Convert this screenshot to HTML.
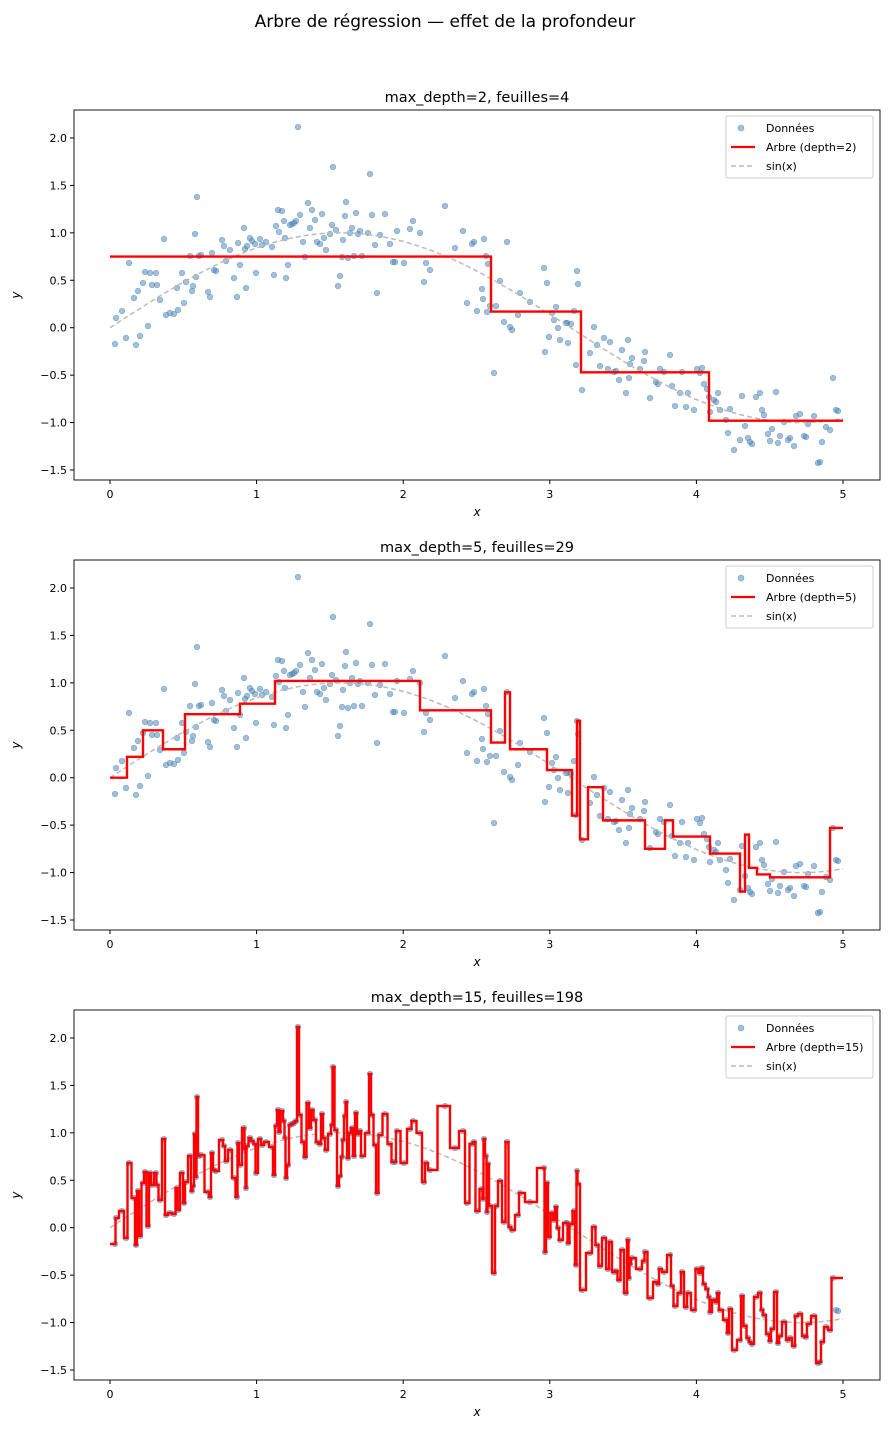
<!DOCTYPE html>
<html><head><meta charset="utf-8"><style>
body{margin:0;background:#fff;font-family:"Liberation Sans","DejaVu Sans",sans-serif}
svg text{font-family:"DejaVu Sans","Liberation Sans",sans-serif}
</style></head><body>
<svg id="s" width="890" height="1433" xmlns="http://www.w3.org/2000/svg"></svg>
<script>
const P=[[115,344],[116,318],[122,311],[126,338],[129,263],[134,298],[136,345],[138,291],[140,336],[143,283],[145,272],[148,326],[150,273],[152,285],[156,273],[157,285],[160,300],[164,239],[166,315],[170,313],[174,314],[177,288],[178,310],[182,273],[184,303],[186,282],[190,256],[192,291],[193,286],[195,234],[196,277],[197,197],[199,256],[201,255],[208,292],[210,297],[212,253],[214,270],[216,271],[222,240],[224,246],[226,261],[230,250],[234,278],[237,297],[238,243],[240,265],[244,228],[245,249],[246,288],[247,246],[250,238],[252,241],[255,244],[256,273],[260,239],[262,245],[266,242],[272,247],[274,275],[276,226],[278,210],[279,232],[282,211],[284,221],[285,238],[286,278],[288,265],[290,225],[292,224],[294,223],[296,221],[298,127],[300,215],[303,242],[305,257],[308,203],[310,228],[312,210],[315,220],[317,242],[320,244],[322,214],[324,238],[326,250],[330,234],[332,225],[333,167],[336,230],[338,286],[340,276],[342,257],[343,240],[345,216],[346,202],[348,258],[350,233],[352,228],[354,256],[356,213],[358,234],[360,231],[362,256],[368,233],[370,174],[372,215],[375,245],[377,293],[380,235],[385,214],[390,244],[393,262],[395,262],[397,231],[404,263],[410,229],[413,221],[420,233],[424,282],[426,263],[430,270],[445,206],[455,248],[463,231],[467,303],[472,244],[474,242],[477,311],[482,289],[483,299],[484,239],[486,256],[487,312],[488,264],[490,306],[494,373],[496,306],[500,281],[504,322],[507,242],[510,327],[512,330],[518,315],[520,293],[530,302],[544,268],[545,352],[547,283],[549,337],[552,313],[554,320],[556,307],[558,328],[560,340],[566,323],[567,323],[568,343],[571,324],[574,311],[576,365],[577,271],[578,284],[582,390],[590,353],[594,327],[597,345],[600,366],[604,338],[608,369],[610,342],[614,372],[616,371],[619,380],[622,350],[626,393],[628,340],[629,378],[630,364],[632,358],[640,369],[644,361],[645,352],[650,398],[656,382],[658,384],[660,369],[664,372],[670,355],[672,386],[675,406],[680,393],[682,372],[686,407],[688,393],[694,410],[697,369],[700,373],[702,368],[704,384],[707,389],[709,397],[710,412],[714,400],[716,402],[718,393],[720,410],[726,420],[728,433],[730,409],[734,450],[740,440],[742,396],[745,426],[748,438],[750,442],[752,444],[756,397],[760,393],[762,410],[764,415],[768,434],[770,441],[772,429],[776,392],[778,443],[780,436],[784,422],[788,440],[790,438],[794,446],[796,416],[800,414],[804,436],[806,437],[808,424],[814,416],[818,463],[820,462],[822,442],[826,427],[830,430],[833,378],[836,410],[838,411]];
const d2=[[110,0.75],[491,0.17],[581,-0.47],[709,-0.98],[843,null]];
const d5=[[110,0],[127,0.22],[143,0.5],[163,0.3],[185,0.67],[240,0.78],[275,1.02],[420,0.71],[491,0.37],[505,0.9],[510,0.3],[547,0.08],[572,-0.4],[577,0.6],[580,-0.65],[588,-0.1],[603,-0.45],[645,-0.75],[665,-0.45],[673,-0.62],[710,-0.8],[740,-1.2],[745,-0.6],[749,-0.95],[757,-1.02],[770,-1.05],[830,-0.53],[843,null]];
let h='';
const add=s=>h+=s;
add('<text x="445" y="27" font-size="17" text-anchor="middle">Arbre de régression — effet de la profondeur</text>');
const yu=94.86;
function panel(off,title,lbl,steps,sorted){
  const y0=327.7+off, top=110+off, bot=480+off;
  const Y=v=>y0-v*yu;
  add(`<text x="477" y="${102+off}" font-size="14.5" text-anchor="middle">${title}</text>`);
  add(`<rect x="74" y="${top}" width="806" height="${bot-top}" fill="none" stroke="#000" stroke-width="0.9"/>`);
  for(let i=0;i<=5;i++){let x=110+i*146.6;add(`<line x1="${x}" y1="${bot}" x2="${x}" y2="${bot+4}" stroke="#000"/><text x="${x}" y="${bot+18}" font-size="11" text-anchor="middle">${i}</text>`);}
  for(let v=-1.5;v<=2.01;v+=0.5){let y=Y(v);add(`<line x1="70" y1="${y}" x2="74" y2="${y}" stroke="#000"/><text x="67" y="${y+4}" font-size="11" text-anchor="end">${(v<0?'−':'')+Math.abs(v).toFixed(1)}</text>`);}
  add(`<text x="477" y="${bot+36}" font-size="12" font-style="italic" text-anchor="middle">x</text>`);
  add(`<text x="20" y="${(top+bot)/2}" font-size="12" font-style="italic" text-anchor="middle" transform="rotate(-90 20 ${(top+bot)/2})">y</text>`);
  let pts='';for(const [x,y] of P)pts+=`<circle cx="${x}" cy="${y+off}" r="2.8" fill="#4682b4" fill-opacity="0.5" stroke="#4682b4" stroke-opacity="0.6" stroke-width="0.6"/>`;add(pts);
  let sp='';for(let i=0;i<=100;i++){let t=i/20;sp+=(i?'L':'M')+(110+t*146.6).toFixed(1)+' '+Y(Math.sin(t)).toFixed(1);}
  add(`<path d="${sp}" fill="none" stroke="#bbb" stroke-width="1.5" stroke-dasharray="5,3"/>`);
  let d='';
  if(sorted){const s=P.slice().sort((a,b)=>a[0]-b[0]);let px=110;s.forEach((p,i)=>{let nx=i<s.length-1?(p[0]+s[i+1][0])/2:843;let y=p[1]+off;if(p[0]>=833)y=378+off;d+=(i?'L':'M')+px+' '+y+'L'+nx+' '+y;px=nx;});}
  else{for(let i=0;i<steps.length-1;i++){let y=Y(steps[i][1]);d+=(i?'L':'M')+steps[i][0]+' '+y+'L'+steps[i+1][0]+' '+y;}}
  add(`<path d="${d}" fill="none" stroke="#f00" stroke-width="2.4" stroke-linejoin="miter"/>`);
  const lx=lbl.length>19?718:726;
  add(`<rect x="${lx}" y="${116+off}" width="${873-lx}" height="62" rx="2" fill="#fff" fill-opacity="0.8" stroke="#ccc"/>`);
  add(`<circle cx="${lx+15}" cy="${128+off}" r="3" fill="#4682b4" fill-opacity="0.5" stroke="#4682b4" stroke-opacity="0.6" stroke-width="0.6"/><text x="${lx+40}" y="${132+off}" font-size="11">Données</text>`);
  add(`<line x1="${lx+5}" y1="${147+off}" x2="${lx+29}" y2="${147+off}" stroke="#f00" stroke-width="2.2"/><text x="${lx+40}" y="${151+off}" font-size="11">${lbl}</text>`);
  add(`<line x1="${lx+5}" y1="${166+off}" x2="${lx+29}" y2="${166+off}" stroke="#bbb" stroke-width="1.5" stroke-dasharray="5,3"/><text x="${lx+40}" y="${170+off}" font-size="11">sin(x)</text>`);
}
panel(0,'max_depth=2, feuilles=4','Arbre (depth=2)',d2,false);
panel(450,'max_depth=5, feuilles=29','Arbre (depth=5)',d5,false);
panel(900,'max_depth=15, feuilles=198','Arbre (depth=15)',null,true);
document.getElementById('s').innerHTML=h;
</script>
</body></html>
